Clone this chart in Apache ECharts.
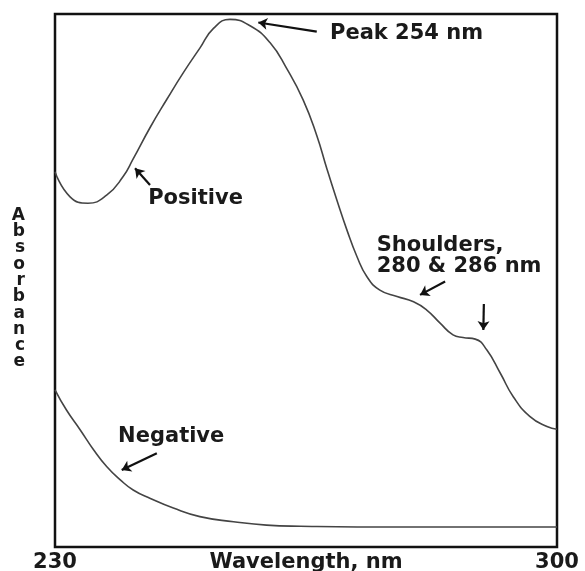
<!DOCTYPE html>
<html>
<head>
<meta charset="utf-8">
<script src="https://cdn.jsdelivr.net/npm/echarts@6/dist/echarts.min.js"></script>
<style>
html,body{margin:0;padding:0;background:#fff;}
#chart{width:585px;height:571px;}
</style>
</head>
<body>
<div id="chart"></div>
<script>
// Wavelength (nm) / relative absorbance pairs
var positiveWl  = [230.0, 232.1, 234.6, 237.2, 239.5, 240.9, 243.3, 245.6, 247.9, 250.2, 252.1, 254.4, 257.2, 260.0, 262.3, 264.6, 266.5, 267.9, 269.3, 270.7, 272.1, 273.5, 275.3, 277.7, 280.0, 281.8, 283.7, 285.5, 286.9, 288.6, 290.2, 292.1, 293.9, 296.2, 298.6, 300.0];
var positiveAbs = [70.4, 65.7, 64.5, 66.0, 69.5, 72.8, 78.8, 84.0, 89.0, 93.6, 97.3, 99.0, 97.8, 94.6, 89.8, 83.9, 77.2, 71.0, 65.1, 59.5, 54.5, 50.7, 48.2, 47.0, 46.0, 44.5, 42.0, 39.8, 39.3, 39.0, 37.0, 32.6, 28.2, 24.5, 22.6, 22.1];
var negativeWl  = [230.0, 231.6, 233.5, 235.4, 237.2, 239.1, 240.9, 243.3, 246.5, 250.2, 254.9, 259.5, 264.2, 278.1, 300.0];
var negativeAbs = [29.5, 25.7, 22.0, 18.2, 15.1, 12.6, 10.7, 9.1, 7.3, 5.7, 4.75, 4.1, 3.9, 3.75, 3.75];
var xTickLabels = ['230', '300'];
var xAxisTitle = 'Wavelength, nm';
var yAxisTitle = 'Absorbance';

// Annotation texts and arrows (data coordinates)
var noteTexts = ['Peak 254 nm', 'Positive', 'Shoulders,\n280 & 286 nm', 'Negative'];
var noteAnchors = [[268.35, 96.4], [243.0, 65.4], [274.86, 54.5], [238.8, 20.7]];
var arrowFrom = [[266.5, 96.7], [243.25, 67.9], [284.4, 49.8], [289.8, 45.6], [244.2, 17.6]];
var arrowTo   = [[258.35, 98.4], [241.16, 71.05], [280.9, 47.3], [289.73, 40.7], [239.3, 14.45]];

function pairs(xs, ys){ return xs.map(function(x,i){ return [x, ys[i]]; }); }

var FONT = 'DejaVu Sans';
var TXT = '#1a1a1a';

var chart = echarts.init(document.getElementById('chart'), null, {renderer:'canvas'});
chart.setOption({
  animation:false,
  backgroundColor:'#fff',
  grid:{left:55, right:28, top:14, bottom:24, outerBoundsMode:'none', containLabel:false,
        show:true, borderColor:'#111', borderWidth:2.5, backgroundColor:'transparent'},
  xAxis:{
    type:'value', min:230, max:300, interval:70,
    axisLine:{show:false}, axisTick:{show:false}, splitLine:{show:false},
    axisLabel:{
      margin:5, fontFamily:FONT, fontWeight:'bold', fontSize:21, color:TXT,
      formatter:function(v){ var i = v===230?0:(v===300?1:-1); return i<0?'':xTickLabels[i]; }
    },
    name:xAxisTitle, nameLocation:'middle', nameGap:5, nameMoveOverlap:false,
    nameTextStyle:{fontFamily:FONT, fontWeight:'bold', fontSize:21, color:TXT, verticalAlign:'top'}
  },
  yAxis:{
    type:'value', min:0, max:100,
    axisLine:{show:false}, axisTick:{show:false}, splitLine:{show:false}, axisLabel:{show:false},
    name:'\n' + yAxisTitle.split('').join('\n'), nameLocation:'middle', nameRotate:0, nameGap:30, nameMoveOverlap:false,
    nameTextStyle:{fontFamily:FONT, fontWeight:'bold', fontSize:17, lineHeight:16.3, color:TXT}
  },
  series:[
    {
      name:'Positive', type:'line', data:pairs(positiveWl, positiveAbs),
      smooth:0.5, showSymbol:false, symbol:'none',
      lineStyle:{color:'#444', width:1.6},
      markPoint:{
        symbol:'circle', symbolSize:0, silent:true,
        label:{show:true, position:'right', distance:0, fontFamily:FONT, fontWeight:'bold', fontSize:21, lineHeight:21, color:TXT,
          formatter:function(p){ return p.name; }},
        data: noteTexts.map(function(t,i){ return {name:t, coord:noteAnchors[i]}; })
      },
      markLine:{
        silent:true, symbol:['none','arrow'], symbolSize:9,
        label:{show:false},
        lineStyle:{color:'#111', width:2.2, type:'solid'},
        emphasis:{disabled:true},
        data: arrowFrom.map(function(a,i){ return [{coord:a},{coord:arrowTo[i]}]; })
      }
    },
    {
      name:'Negative', type:'line', data:pairs(negativeWl, negativeAbs),
      smooth:0.5, showSymbol:false, symbol:'none',
      lineStyle:{color:'#444', width:1.6}
    }
  ]
});
</script>
</body>
</html>
